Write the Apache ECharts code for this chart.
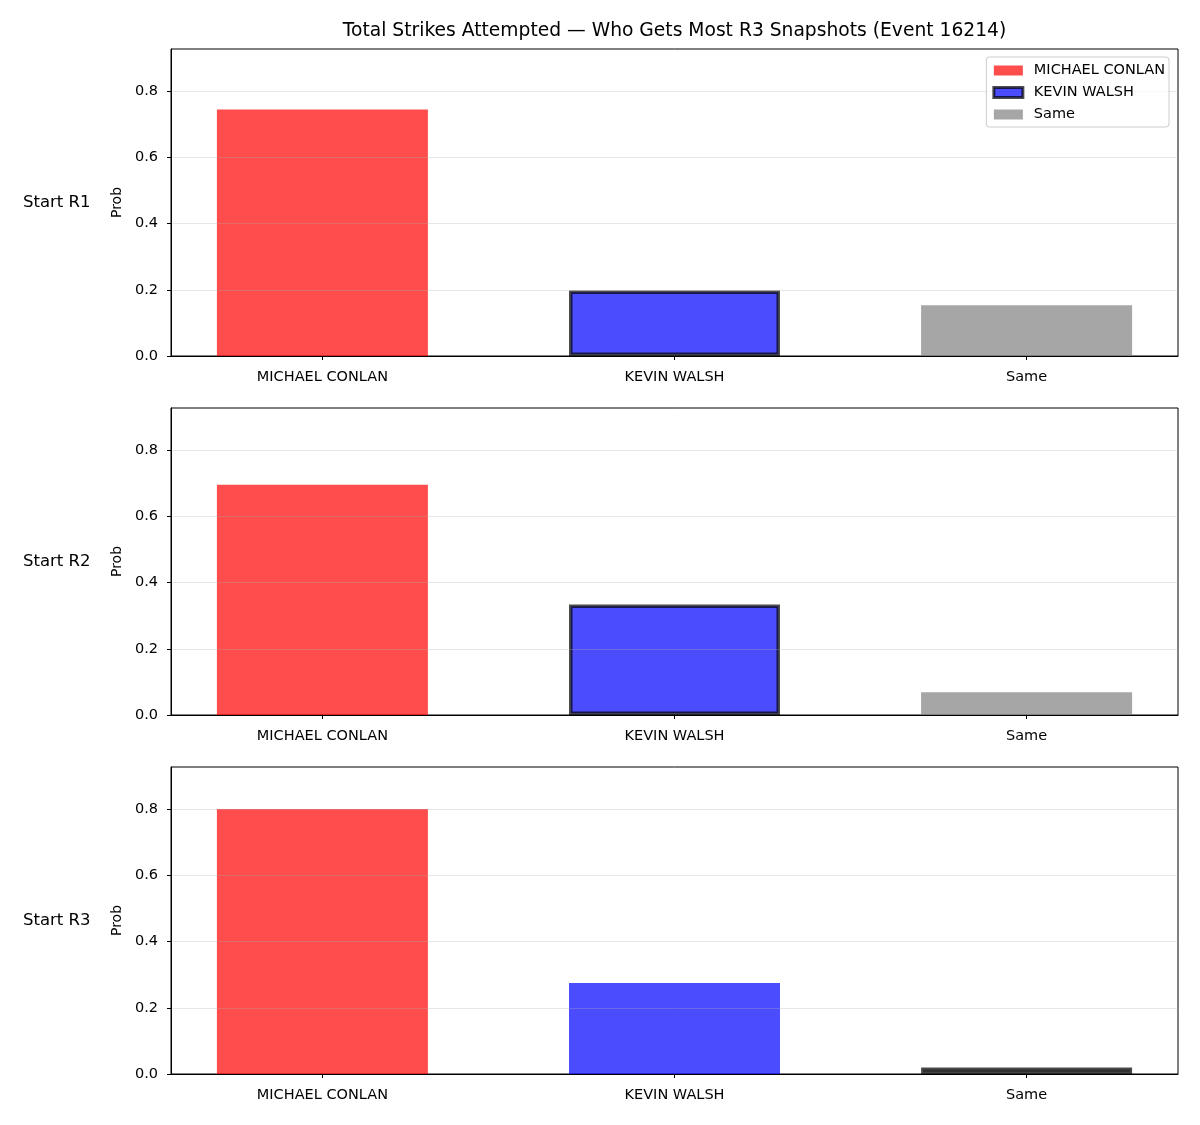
<!DOCTYPE html>
<html>
<head>
<meta charset="utf-8">
<script src="https://cdn.jsdelivr.net/npm/echarts@6/dist/echarts.min.js"></script>
<style>
  html, body { margin: 0; padding: 0; background: #fff; }
  #chart { width: 1200px; height: 1125px; }
</style>
</head>
<body>
<div id="chart"></div>
<script>
const titleText = 'Total Strikes Attempted — Who Gets Most R3 Snapshots (Event 16214)';
const categories = ['MICHAEL CONLAN', 'KEVIN WALSH', 'Same'];
const rowLabels = ['Start R1', 'Start R2', 'Start R3'];
const startR1 = [0.744, 0.198, 0.153];
const startR2 = [0.695, 0.334, 0.069];
const startR3 = [0.800, 0.275, 0.020];
const panelValues = [startR1, startR2, startR3];
// which bar gets the dark edge in each panel
const highlighted = [1, 1, 2];
const yTicks = [0, 0.2, 0.4, 0.6, 0.8];
const yMax = 0.927;

const barColors = ['rgba(255,0,0,0.7)', 'rgba(0,0,255,0.7)', 'rgba(128,128,128,0.7)'];
const edgeColor = 'rgba(0,0,0,0.7)';
const font = 'DejaVu Sans';

const chart = echarts.init(document.getElementById('chart'));

const panelTops = [49, 408, 767];
const panelHeight = 307;

const grids = panelTops.map((top) => ({
  left: 171,
  right: 22,
  top: top,
  height: panelHeight,
  show: true,
  borderColor: '#000',
  borderWidth: 1,
  backgroundColor: 'transparent',
}));

const xAxes = panelTops.map((_, i) => ({
  type: 'value',
  gridIndex: i,
  min: -0.43,
  max: 2.43,
  z: 5,
  axisLine: { show: true, onZero: false, lineStyle: { color: '#000', width: 1 } },
  axisTick: { show: true, customValues: [0, 1, 2], length: 4, lineStyle: { color: '#000' } },
  axisLabel: {
    customValues: [0, 1, 2],
    formatter: (v) => categories[Math.round(v)],
    color: '#000',
    fontFamily: font,
    fontSize: 14.5,
    margin: 14,
  },
  splitLine: { show: false },
}));

const yAxes = panelTops.map((_, i) => ({
  type: 'value',
  gridIndex: i,
  min: 0,
  max: yMax,
  interval: 0.2,
  z: 5,
  name: 'Prob',
  nameLocation: 'middle',
  nameRotate: 90,
  nameGap: 47,
  nameTextStyle: { color: '#000', fontFamily: font, fontSize: 14 },
  axisLine: { show: true, onZero: false, lineStyle: { color: '#000', width: 1 } },
  axisTick: { show: true, customValues: yTicks, length: 4, lineStyle: { color: '#000' } },
  axisLabel: {
    customValues: yTicks,
    formatter: (v) => v.toFixed(1),
    color: '#000',
    fontFamily: font,
    fontSize: 14.5,
    margin: 13,
  },
  splitLine: { show: true, lineStyle: { color: 'rgba(176,176,176,0.3)', width: 1 } },
}));

const series = [];
panelValues.forEach((vals, p) => {
  vals.forEach((v, j) => {
    const item = { value: [j, v] };
    if (highlighted[p] === j) {
      item.itemStyle = { color: barColors[j], borderColor: edgeColor, borderWidth: 3.5 };
    }
    series.push({
      type: 'bar',
      name: categories[j],
      xAxisIndex: p,
      yAxisIndex: p,
      barWidth: 211,
      barGap: '-100%',
      itemStyle: { color: barColors[j] },
      data: [item],
      animation: false,
    });
  });
});

const legendData = categories.map((name, j) => {
  const d = { name: name, itemStyle: { color: barColors[j], borderWidth: 0 } };
  if (highlighted[0] === j) {
    d.itemStyle = { color: barColors[j], borderColor: edgeColor, borderWidth: 3 };
  }
  return d;
});

const graphics = [
  {
    type: 'text',
    x: 674.5,
    y: 31,
    style: { text: titleText, fill: '#000', font: '18.7px "DejaVu Sans"', align: 'center', verticalAlign: 'middle' },
  },
];
rowLabels.forEach((label, i) => {
  graphics.push({
    type: 'text',
    x: 23,
    y: panelTops[i] + panelHeight / 2,
    style: { text: label, fill: '#000', font: '16.5px "DejaVu Sans"', align: 'left', verticalAlign: 'middle' },
  });
});

const option = {
  backgroundColor: '#fff',
  animation: false,
  grid: grids,
  xAxis: xAxes,
  yAxis: yAxes,
  legend: {
    data: legendData,
    orient: 'vertical',
    right: 31,
    top: 57,
    padding: [6, 4, 5, 6],
    itemWidth: 29,
    itemHeight: 10,
    itemGap: 7,
    icon: 'rect',
    selectedMode: false,
    backgroundColor: 'rgba(255,255,255,0.8)',
    borderColor: '#ccc',
    borderWidth: 1,
    borderRadius: 3,
    z: 10,
    textStyle: { color: '#000', fontFamily: font, fontSize: 14.5, padding: [0, 0, 0, 6] },
  },
  graphic: graphics,
  series: series,
};

chart.setOption(option);
</script>
</body>
</html>
